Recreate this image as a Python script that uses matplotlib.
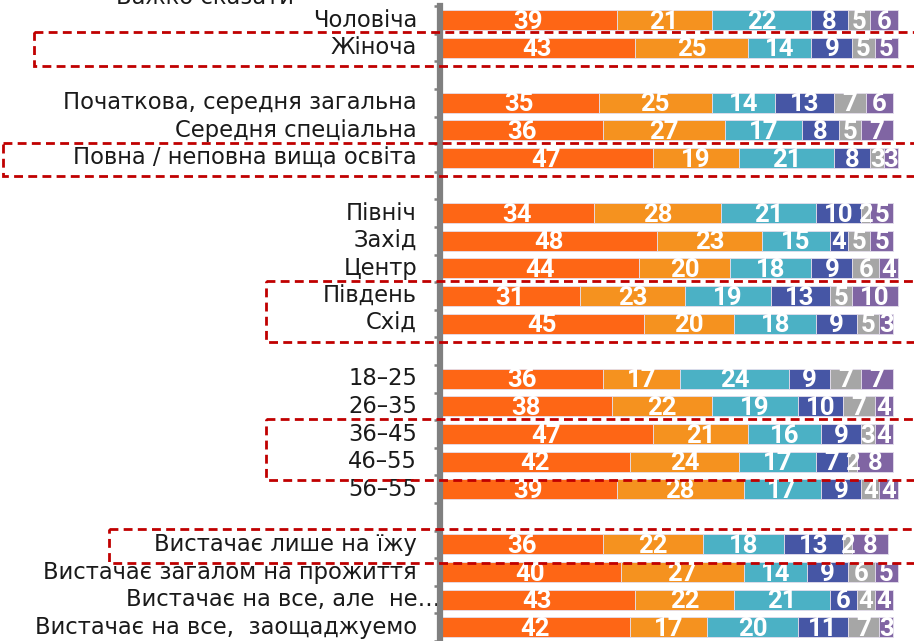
import numpy as np
import matplotlib.pyplot as plt
import matplotlib.transforms as mtransforms
from matplotlib.patches import Rectangle

# Categories (None = empty separator row)
categories = [
    "Чоловіча", "Жіноча", None,
    "Початкова, середня загальна", "Середня спеціальна", "Повна / неповна вища освіта", None,
    "Північ", "Захід", "Центр", "Південь", "Схід", None,
    "18–25", "26–35", "36–45", "46–55", "56–55", None,
    "Вистачає лише на їжу", "Вистачає загалом на прожиття",
    "Вистачає на все, але  не…", "Вистачає на все,  заощаджуемо",
]

# Six answer segments per row (same order as categories, separators skipped)
seg1 = [39, 43, 35, 36, 47, 34, 48, 44, 31, 45, 36, 38, 47, 42, 39, 36, 40, 43, 42]
seg2 = [21, 25, 25, 27, 19, 28, 23, 20, 23, 20, 17, 22, 21, 24, 28, 22, 27, 22, 17]
seg3 = [22, 14, 14, 17, 21, 21, 15, 18, 19, 18, 24, 19, 16, 17, 17, 18, 14, 21, 20]
seg4 = [8, 9, 13, 8, 8, 10, 4, 9, 13, 9, 9, 10, 9, 7, 9, 13, 9, 6, 11]
seg5 = [5, 5, 7, 5, 3, 2, 5, 6, 5, 5, 7, 7, 3, 2, 4, 2, 6, 4, 7]
seg6 = [6, 5, 6, 7, 3, 5, 5, 4, 10, 3, 7, 4, 4, 8, 4, 8, 5, 4, 3]

colors = ["#FE6615", "#F5921F", "#4BB1C5", "#4656A5", "#A6A6A6", "#8065A3"]

# highlighted groups: (first label, last label, left edge in px)
boxes = [
    ("Жіноча", "Жіноча", 34),
    ("Повна / неповна вища освіта", "Повна / неповна вища освіта", 3),
    ("Південь", "Схід", 266),
    ("36–45", "46–55", 266),
    ("Вистачає лише на їжу", "Вистачає лише на їжу", 109),
]

W, H = 914, 641
fig = plt.figure(figsize=(W / 100, H / 100), dpi=100)
ax = fig.add_axes([440 / W, 0, 1 - 440 / W, 1])

rows = [i for i, c in enumerate(categories) if c is not None]
labels = [c for c in categories if c is not None]
data = np.array([seg1, seg2, seg3, seg4, seg5, seg6])

left = np.zeros(len(rows))
for k in range(6):
    ax.barh(rows, data[k], left=left, height=0.72, color=colors[k],
            edgecolor="#E4DEEC", linewidth=0.6, zorder=2)
    for y, l, v in zip(rows, left, data[k]):
        ax.text(l + v / 2, y + 0.06, str(v), ha="center", va="center",
                color="white", fontsize=18.5, fontweight="bold",
                family="Roboto", zorder=3)
    left = left + data[k]

ax.set_xlim(0, (W - 440) / 4.53)
ax.set_ylim(22.5, -0.725)

for s in ["top", "right", "bottom"]:
    ax.spines[s].set_visible(False)
ax.spines["left"].set_color("#808080")
ax.spines["left"].set_linewidth(4.5)
ax.spines["left"].set_bounds(-0.5, 22.5)
ax.spines["left"].set_zorder(4)

ax.set_xticks([])
ax.set_yticks(np.arange(-0.5, 23, 1))
ax.set_yticklabels([])
ax.tick_params(axis="y", length=4, width=1.8, color="#808080")

# category labels
for y, lab in zip(rows, labels):
    off = 0 if lab.endswith("…") else -23
    ax.annotate(lab, xy=(0, y), xycoords=("axes fraction", "data"),
                xytext=(off * 0.72, 0), textcoords="offset points",
                ha="right", va="center", fontsize=16.3, color="#1a1a1a")

# top cut-off legend text
fig.text(205 / W, 1 - 4 / H, "Важко сказати", ha="center", va="baseline",
         fontsize=16.3, color="#1a1a1a")

# red dashed boxes
blend = mtransforms.blended_transform_factory(fig.transFigure, ax.transData)
for first, last, x0 in boxes:
    y0 = rows[labels.index(first)] - 0.56
    y1 = rows[labels.index(last)] + 0.67
    ax.add_patch(Rectangle((x0 / W, y0), 1.2 - x0 / W, y1 - y0, transform=blend,
                           fill=False, edgecolor="#C00000", linestyle=(0, (3.2, 1.9)),
                           linewidth=2.0, clip_on=False, zorder=5))

fig.savefig("out.png", dpi=100)
